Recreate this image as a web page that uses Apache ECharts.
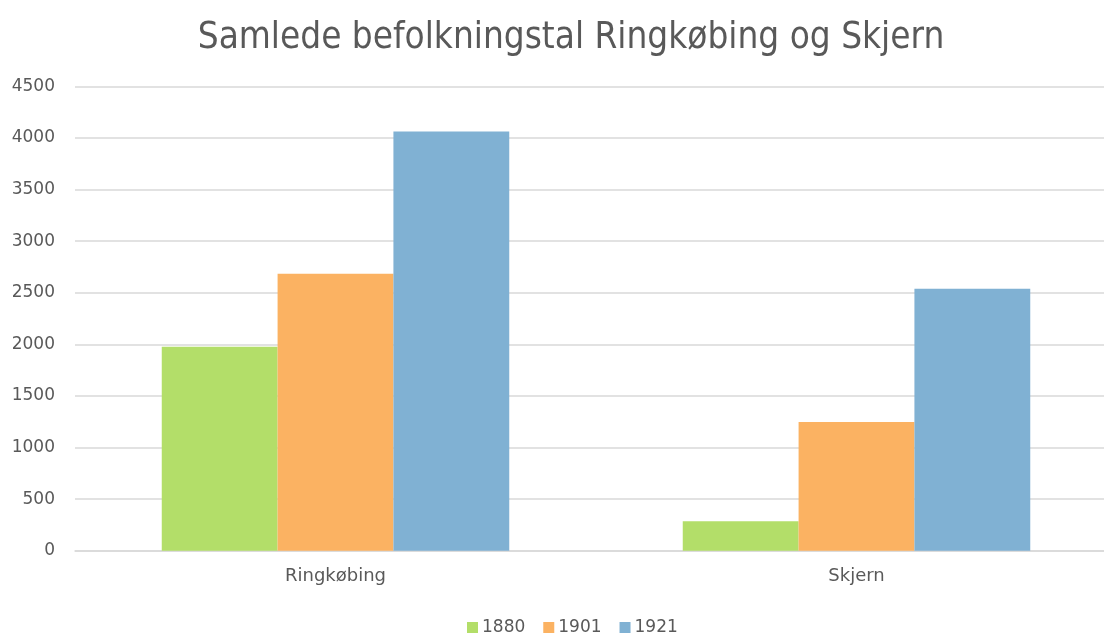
<!DOCTYPE html>
<html>
<head>
<meta charset="utf-8">
<script src="https://cdn.jsdelivr.net/npm/echarts@6/dist/echarts.min.js"></script>
<style>
html,body{margin:0;padding:0;background:#fff;}
#chart{width:1104px;height:634px;}
</style>
</head>
<body>
<div id="chart"></div>
<script>
const titleText = 'Samlede befolkningstal Ringkøbing og Skjern';
const categories = ['Ringkøbing', 'Skjern'];
const seriesNames = ['1880', '1901', '1921'];
const values1880 = [1976, 285];
const values1901 = [2684, 1248];
const values1921 = [4061, 2538];
const colors = ['#b3de69', '#fbb262', '#80b1d3'];

const chart = echarts.init(document.getElementById('chart'), null, {renderer: 'canvas'});
const allValues = [values1880, values1901, values1921];
chart.setOption({
  animation: false,
  backgroundColor: '#ffffff',
  title: {
    text: titleText,
    left: 566,
    textAlign: 'center',
    top: 15,
    textStyle: {fontFamily: 'DejaVu Sans Condensed', fontSize: 36.6, fontWeight: 'normal', color: '#595959'}
  },
  legend: {
    data: seriesNames,
    top: 614,
    left: 462,
    itemWidth: 11,
    itemHeight: 11,
    itemGap: 18,
    icon: 'rect',
    textStyle: {fontFamily: 'DejaVu Sans', fontSize: 17, color: '#595959', padding: [0, 0, 0, -1]}
  },
  grid: {left: 75, top: 86.3, right: -13, bottom: 83.3, containLabel: false, outerBoundsMode: 'none'},
  xAxis: {
    type: 'category',
    data: categories,
    axisLine: {show: true, lineStyle: {color: '#d9d9d9', width: 1.5}},
    axisTick: {show: false},
    axisLabel: {fontFamily: 'DejaVu Sans', fontSize: 18, color: '#595959', margin: 17}
  },
  yAxis: {
    type: 'value',
    min: 0,
    max: 4500,
    interval: 500,
    axisLine: {show: false},
    axisTick: {show: false},
    axisLabel: {fontFamily: 'DejaVu Sans', fontSize: 17, color: '#595959', margin: 20, formatter: v => String(v)},
    splitLine: {lineStyle: {color: '#d9d9d9', width: 1.5}}
  },
  series: seriesNames.map((name, i) => ({
    name: name,
    type: 'bar',
    data: allValues[i],
    barGap: '0%',
    barCategoryGap: '33.3%',
    itemStyle: {color: colors[i]}
  }))
});
</script>
</body>
</html>
